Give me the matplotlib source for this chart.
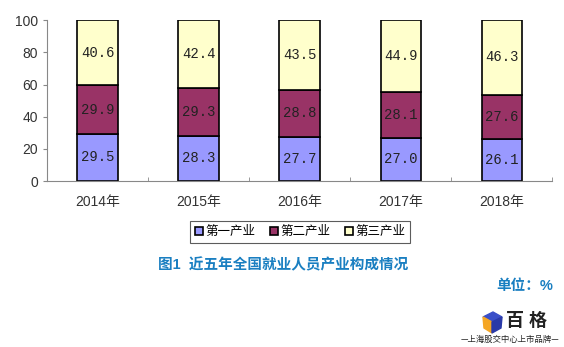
import matplotlib.pyplot as plt
from matplotlib.patches import Polygon
import numpy as np

years = ['2014年', '2015年', '2016年', '2017年', '2018年']
primary = [29.5, 28.3, 27.7, 27.0, 26.1]
secondary = [29.9, 29.3, 28.8, 28.1, 27.6]
tertiary = [40.6, 42.4, 43.5, 44.9, 46.3]
series_names = ['第一产业', '第二产业', '第三产业']
colors = ['#9999ff', '#993366', '#ffffcc']

cjk = ['Liberation Sans', 'Noto Sans CJK SC']

fig = plt.figure(figsize=(5.64, 3.47), dpi=100)
ax = fig.add_axes([0.0833, 0.478, 0.896, 0.464])

x = np.arange(len(years))
bottom = np.zeros(len(years))
handles = []
for vals, c, name in zip([primary, secondary, tertiary], colors, series_names):
    b = ax.bar(x, vals, 0.4, bottom=bottom, color=c, edgecolor='black',
               linewidth=1.2, label=name)
    handles.append(b)
    for xi, v, b0 in zip(x, vals, bottom):
        ax.text(xi, b0 + v / 2, f'{v:.1f}', ha='center', va='center',
                fontsize=10, family='Liberation Mono', color='#222222')
    bottom += np.array(vals)

ax.set_xlim(-0.5, len(years) - 0.5)
ax.set_ylim(0, 100)
ax.set_yticks(range(0, 101, 20))
ax.tick_params(axis='y', labelsize=10, length=3, color='#888888', labelcolor='#333333')
for lbl in ax.get_yticklabels():
    lbl.set_family(cjk)

ax.set_xticks(x)
ax.set_xticklabels(years, family=cjk, fontsize=10, color='#333333')
ax.tick_params(axis='x', length=0, pad=10)
ax.set_xticks(np.arange(0.5, len(years)), minor=True)
ax.tick_params(axis='x', which='minor', direction='in', length=3, color='#888888')

for s in ['top', 'right']:
    ax.spines[s].set_visible(False)
for s in ['left', 'bottom']:
    ax.spines[s].set_color('#888888')

leg = fig.legend(handles=handles, labels=series_names, loc='center',
                 bbox_to_anchor=(300 / 564, 1 - 232 / 347), ncol=3,
                 prop={'family': cjk, 'size': 9}, frameon=True, fancybox=False,
                 handlelength=0.6, handleheight=0.6, handletextpad=0.2,
                 columnspacing=1.2, borderpad=0.4)
leg.get_frame().set_edgecolor('#333333')
leg.get_frame().set_linewidth(0.8)

fig.text(283 / 564, 1 - 265 / 347, '图1  近五年全国就业人员产业构成情况',
         ha='center', va='center', fontsize=10.5, fontweight='bold',
         color='#1a7fc1', family=cjk)
fig.text(553 / 564, 1 - 286 / 347, '单位：%', ha='right', va='center',
         fontsize=10.5, fontweight='bold', color='#1a7fc1', family=cjk)

# logo: cube icon and brand text
lax = fig.add_axes([0, 0, 1, 1], zorder=-1)
lax.set_xlim(0, 564)
lax.set_ylim(347, 0)
lax.axis('off')
lax.add_patch(Polygon([(483, 317), (493, 312), (502, 317), (492, 322)], color='#3a4fc8'))
lax.add_patch(Polygon([(483, 317), (492, 322), (492, 333), (484, 328)], color='#f5a623'))
lax.add_patch(Polygon([(492, 322), (502, 317), (501, 328), (492, 333)], color='#2a3aa8'))
fig.text(527 / 564, 1 - 321 / 347, '百 格', ha='center', va='center',
         fontsize=13, fontweight='bold', color='#222222', family=cjk)
fig.text(559 / 564, 1 - 339 / 347, '—上海股交中心上市品牌—', ha='right', va='center',
         fontsize=6, color='#222222', family=['Noto Sans CJK SC'])

fig.savefig('out.png', dpi=100)
